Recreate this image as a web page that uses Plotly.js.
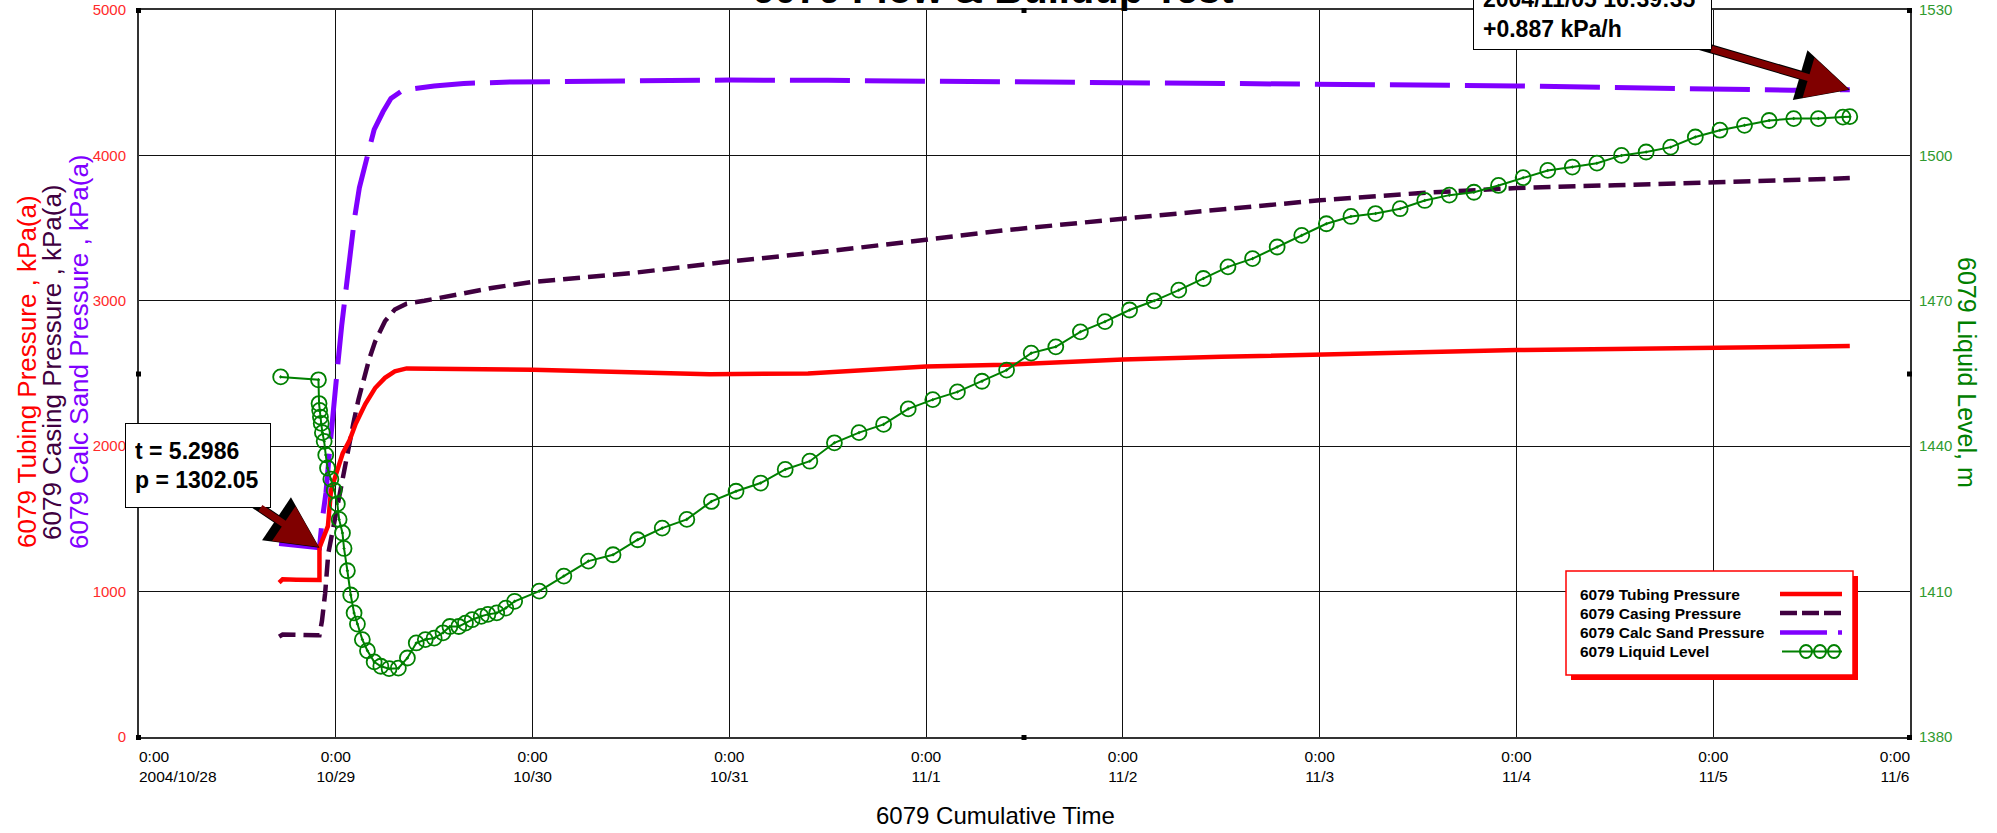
<!DOCTYPE html>
<html><head><meta charset="utf-8">
<script src="https://cdn.plot.ly/plotly-3.0.1.min.js"></script>
<style>html,body{margin:0;padding:0;background:#fff;}#chart{width:1997px;height:833px;}</style>
</head><body><div id="chart"></div>
<script>
// Time values are days since 2004-10-28 00:00
const tubingT = [0.712, 0.73, 0.80, 0.917, 0.917, 0.945, 0.96, 0.976, 1.0, 1.035, 1.07, 1.1, 1.15, 1.2, 1.25, 1.3, 1.36, 1.5, 1.75, 2.0, 2.5, 2.9, 3.4, 3.75, 4.0, 4.4, 5.0, 5.5, 6.0, 6.5, 7.0, 7.5, 8.0, 8.35, 8.694];
const tubingP = [1062, 1085, 1082, 1080, 1302.05, 1400, 1450, 1700, 1810, 1950, 2040, 2150, 2290, 2400, 2470, 2515, 2535, 2535, 2530, 2525, 2505, 2495, 2500, 2530, 2548, 2560, 2597, 2615, 2632, 2648, 2661, 2668, 2673, 2682, 2689];

const casingT = [0.712, 0.73, 0.905, 0.917, 0.93, 0.946, 0.962, 0.987, 1.01, 1.038, 1.065, 1.089, 1.115, 1.14, 1.17, 1.2, 1.25, 1.3, 1.36, 1.45, 1.6, 1.8, 2.0, 2.5, 3.0, 3.5, 4.0, 4.4, 5.0, 5.5, 6.0, 6.5, 7.0, 7.5, 8.0, 8.35, 8.694];
const casingP = [690, 705, 700, 700, 800, 989, 1263, 1446, 1600, 1812, 2000, 2155, 2320, 2452, 2600, 2720, 2860, 2940, 2980, 3000, 3040, 3090, 3130, 3190, 3270, 3340, 3420, 3485, 3565, 3630, 3691, 3740, 3776, 3795, 3810, 3828, 3844];

const sandT = [0.712, 0.80, 0.905, 0.917, 0.93, 0.95, 0.97, 0.99, 1.01, 1.03, 1.05, 1.07, 1.095, 1.12, 1.155, 1.195, 1.24, 1.28, 1.33, 1.4, 1.5, 1.65, 1.9, 2.2, 2.6, 3.0, 3.5, 4.0, 4.5, 5.0, 5.5, 6.0, 6.5, 7.0, 7.5, 8.0, 8.4, 8.694];
const sandP = [1330, 1318, 1300, 1302, 1480, 1680, 1990, 2320, 2560, 2829, 3075, 3320, 3565, 3779, 3980, 4178, 4300, 4392, 4438, 4460, 4478, 4495, 4505, 4510, 4515, 4518, 4516, 4512, 4505, 4500, 4495, 4490, 4484, 4478, 4470, 4455, 4448, 4452];

const levelT = [0.72, 0.912, 0.915, 0.918, 0.922, 0.926, 0.932, 0.941, 0.949, 0.958, 0.975, 0.992, 1.008, 1.017, 1.034, 1.042, 1.059, 1.076, 1.093, 1.110, 1.135, 1.161, 1.195, 1.229, 1.271, 1.318, 1.364, 1.409, 1.455, 1.5, 1.545, 1.58, 1.625, 1.659, 1.693, 1.739, 1.773, 1.818, 1.864, 1.909, 2.034, 2.159, 2.284, 2.409, 2.534, 2.659, 2.784, 2.909, 3.034, 3.159, 3.284, 3.409, 3.534, 3.659, 3.784, 3.909, 4.034, 4.159, 4.284, 4.409, 4.534, 4.659, 4.784, 4.909, 5.034, 5.159, 5.284, 5.409, 5.534, 5.659, 5.784, 5.909, 6.034, 6.159, 6.284, 6.409, 6.534, 6.659, 6.784, 6.909, 7.034, 7.159, 7.284, 7.409, 7.534, 7.659, 7.784, 7.909, 8.034, 8.159, 8.284, 8.409, 8.534, 8.659, 8.694];
const levelL = [1454.3, 1453.7, 1448.8, 1447.4, 1446.0, 1444.7, 1442.8, 1441.0, 1438.2, 1435.5, 1433.2, 1430.9, 1428.1, 1424.9, 1422.1, 1418.9, 1414.3, 1409.3, 1405.6, 1403.3, 1400.1, 1397.8, 1395.5, 1394.6, 1394.1, 1394.2, 1396.3, 1399.4, 1400.1, 1400.4, 1401.5, 1402.8, 1402.8, 1403.5, 1404.2, 1404.9, 1405.3, 1405.6, 1406.6, 1408.0, 1410.1, 1413.2, 1416.3, 1417.6, 1420.7, 1423.1, 1424.9, 1428.6, 1430.7, 1432.4, 1435.2, 1436.9, 1440.7, 1442.8, 1444.5, 1447.7, 1449.6, 1451.2, 1453.4, 1455.7, 1459.2, 1460.5, 1463.6, 1465.7, 1468.1, 1470.0, 1472.2, 1474.6, 1477.0, 1478.7, 1481.1, 1483.5, 1485.9, 1487.4, 1488.0, 1489.0, 1490.7, 1491.8, 1492.4, 1493.8, 1495.4, 1496.9, 1497.6, 1498.4, 1500.0, 1500.7, 1501.7, 1503.8, 1505.2, 1506.2, 1507.2, 1507.6, 1507.6, 1507.9, 1508.0];

const xTickVals = [0, 1, 2, 3, 4, 5, 6, 7, 8, 9];
const xTickDates = ['2004/10/28', '10/29', '10/30', '10/31', '11/1', '11/2', '11/3', '11/4', '11/5', '11/6'];
const xTickTimes = ['0:00', '0:00', '0:00', '0:00', '0:00', '0:00', '0:00', '0:00', '0:00', '0:00'];
const pTickVals = [0, 1000, 2000, 3000, 4000, 5000];
const lTickVals = [1380, 1410, 1440, 1470, 1500, 1530];

const chartTitle = '6079 Flow & Buildup Test';
const seriesNames = ['6079 Tubing Pressure', '6079 Casing Pressure', '6079 Calc Sand Pressure', '6079 Liquid Level'];
const callout1 = ['t = 5.2986', 'p = 1302.05'];
const callout2 = ['2004/11/05 16:39:35', '+0.887 kPa/h'];

// ---- geometry ----
const W = 1997, H = 833, ML = 139, MR = 87, MT = 10, MB = 96;
const PW = W - ML - MR, PH = H - MT - MB;
const XMAX = 9, PMAX = 5000;
const px = x => (x - ML) / PW;           // pixel -> paper x
const py = y => (H - MB - y) / PH;       // pixel -> paper y
const xPix = d => ML + d / XMAX * PW;
const yPix = p => MT + (PMAX - p) / PMAX * PH;

const FONT = 'Arial, "Liberation Sans", sans-serif';
const cRed = '#ff0000', cCas = '#400040', cSand = '#8000ff', cGreen = '#008000';

const NB = '\u00a0';
const xTickText = xTickVals.map((v, i) => {
  let a = xTickTimes[i], b = xTickDates[i];
  if (i === 0) { a = NB.repeat(7) + a; b = NB.repeat(18) + b; }
  if (i === xTickVals.length - 1) { a = a + NB.repeat(7); b = b + NB.repeat(7); }
  return a + '<br>' + b;
});

const traces = [
  {x: casingT, y: casingP, type: 'scatter', mode: 'lines', name: seriesNames[1],
   line: {color: cCas, width: 4.5, dash: '17px,8px'}},
  {x: sandT, y: sandP, type: 'scatter', mode: 'lines', name: seriesNames[2],
   line: {color: cSand, width: 5, dash: '60px,15px'}},
  {x: tubingT, y: tubingP, type: 'scatter', mode: 'lines', name: seriesNames[0],
   line: {color: cRed, width: 4.5}},
  {x: levelT, y: levelL, type: 'scatter', mode: 'lines+markers', name: seriesNames[3], yaxis: 'y2',
   line: {color: cGreen, width: 2},
   marker: {symbol: 'circle-open-dot', size: 15, color: cGreen, line: {color: cGreen, width: 1.8}}}
];

const annotations = [];
// chart title (clipped at the top edge, as in the reference)
annotations.push({text: '<b>' + chartTitle + '</b>', xref: 'paper', yref: 'paper', x: px(993), y: py(-11),
  xanchor: 'center', yanchor: 'middle', showarrow: false, font: {family: FONT, size: 40, color: '#000'}});
// axis titles
annotations.push({text: '6079 Cumulative Time', xref: 'paper', yref: 'paper', x: px(995), y: py(815),
  xanchor: 'center', yanchor: 'middle', showarrow: false, font: {family: FONT, size: 24, color: '#000'}});
const leftTitles = [
  ['6079 Tubing Pressure , kPa(a)', cRed, 27, 372],
  ['6079 Casing Pressure , kPa(a)', cCas, 52, 362],
  ['6079 Calc Sand Pressure , kPa(a)', cSand, 79, 352]
];
leftTitles.forEach(t => annotations.push({text: t[0], xref: 'paper', yref: 'paper', x: px(t[2]), y: py(t[3]),
  xanchor: 'center', yanchor: 'middle', textangle: -90, showarrow: false, font: {family: FONT, size: 26, color: t[1]}}));
annotations.push({text: '6079 Liquid Level, m', xref: 'paper', yref: 'paper', x: px(1967), y: py(373),
  xanchor: 'center', yanchor: 'middle', textangle: 90, showarrow: false, font: {family: FONT, size: 25, color: cGreen}});

// callouts: black under-arrow for outline, then maroon arrow with text box
function arrowOutline(tipT, tipP, cx, cy) {
  return {text: ' ', xref: 'x', yref: 'y', x: tipT, y: tipP, ax: cx - xPix(tipT), ay: cy - yPix(tipP),
    showarrow: true, arrowcolor: '#000', arrowwidth: 9, arrowhead: 2, arrowsize: 1.15, standoff: 0,
    font: {size: 2}};
}
function callout(lines, tipT, tipP, cx, cy, width, height) {
  return {text: lines.map(s => '<b>' + s + '</b>').join('<br>'), xref: 'x', yref: 'y', x: tipT, y: tipP,
    ax: cx - xPix(tipT), ay: cy - yPix(tipP), showarrow: true, arrowcolor: '#800000', arrowwidth: 7,
    arrowhead: 2, arrowsize: 1.2, standoff: 1, align: 'left', width: width, height: height,
    bgcolor: '#fff', bordercolor: '#000', borderwidth: 1, borderpad: 9,
    font: {family: FONT, size: 23, color: '#000'}};
}
const c1 = [tubingT[4], tubingP[4], 198, 466];
const c2 = [sandT[sandT.length - 1], sandP[sandP.length - 1], 1592.5, 14];
annotations.push(arrowOutline(c1[0], c1[1], c1[2], c1[3]));
annotations.push(arrowOutline(c2[0], c2[1], c2[2], c2[3]));
annotations.push(callout(callout1, c1[0], c1[1], c1[2], c1[3], 126, 65));
annotations.push(callout(callout2, c2[0], c2[1], c2[2], c2[3], 219, 52));

// custom legend (text left, sample right)
const legRows = [594, 613, 632.5, 651.5];
seriesNames.forEach((n, i) => annotations.push({text: '<b>' + n + '</b>', xref: 'paper', yref: 'paper',
  x: px(1578), y: py(legRows[i]), xanchor: 'left', yanchor: 'middle', showarrow: false,
  font: {family: FONT, size: 15.5, color: '#000'}}));

const shapes = [];
shapes.push({type: 'rect', xref: 'paper', yref: 'paper', x0: px(1571), x1: px(1858), y0: py(576), y1: py(680),
  fillcolor: cRed, line: {width: 0}, layer: 'above'});
shapes.push({type: 'rect', xref: 'paper', yref: 'paper', x0: px(1566), x1: px(1853), y0: py(571), y1: py(675),
  fillcolor: '#fff', line: {color: cRed, width: 1.5}, layer: 'above'});
const sx0 = 1780, sx1 = 1842;
shapes.push({type: 'line', xref: 'paper', yref: 'paper', x0: px(sx0), x1: px(sx1), y0: py(legRows[0]), y1: py(legRows[0]),
  line: {color: cRed, width: 4.5}, layer: 'above'});
shapes.push({type: 'line', xref: 'paper', yref: 'paper', x0: px(sx0), x1: px(sx1), y0: py(legRows[1]), y1: py(legRows[1]),
  line: {color: cCas, width: 4.5, dash: '17px,5px'}, layer: 'above'});
shapes.push({type: 'line', xref: 'paper', yref: 'paper', x0: px(sx0), x1: px(sx1), y0: py(legRows[2]), y1: py(legRows[2]),
  line: {color: cSand, width: 4.5, dash: '47px,11px'}, layer: 'above'});
shapes.push({type: 'line', xref: 'paper', yref: 'paper', x0: px(sx0 + 2), x1: px(sx1), y0: py(legRows[3]), y1: py(legRows[3]),
  line: {color: cGreen, width: 2}, layer: 'above'});
[1806, 1820, 1834].forEach(cx => shapes.push({type: 'circle', xref: 'paper', yref: 'paper',
  x0: px(cx - 6), x1: px(cx + 6), y0: py(legRows[3] - 6.5), y1: py(legRows[3] + 6.5),
  line: {color: cGreen, width: 2}, layer: 'above'}));

[[ML, MT], [ML + PW / 2, MT], [ML + PW, MT], [ML, MT + PH / 2], [ML + PW, MT + PH / 2],
 [ML, MT + PH], [ML + PW / 2, MT + PH], [ML + PW, MT + PH]].forEach(p => shapes.push({type: 'rect',
  xref: 'paper', yref: 'paper', x0: px(p[0] - 3), x1: px(p[0] + 2), y0: py(p[1] - 2), y1: py(p[1] + 3),
  fillcolor: '#000', line: {width: 0}, layer: 'above'}));

const layout = {
  width: W, height: H, margin: {l: ML, r: MR, t: MT, b: MB},
  paper_bgcolor: '#fff', plot_bgcolor: '#fff', showlegend: false,
  font: {family: FONT},
  xaxis: {range: [0, XMAX], tickmode: 'array', tickvals: xTickVals, ticktext: xTickText,
    showgrid: true, gridcolor: '#111', gridwidth: 1, zeroline: false,
    showline: true, linecolor: '#333', linewidth: 2, mirror: true, ticks: '', ticklabelstandoff: 4,
    tickfont: {family: FONT, size: 15.5, color: '#000'}},
  yaxis: {range: [0, PMAX], tickmode: 'array', tickvals: pTickVals,
    showgrid: true, gridcolor: '#111', gridwidth: 1, zeroline: false,
    showline: true, linecolor: '#333', linewidth: 2, mirror: true, ticks: '', ticklabelstandoff: 8,
    tickfont: {family: FONT, size: 15, color: '#ff2a2a'}},
  yaxis2: {range: [1380, 1530], tickmode: 'array', tickvals: lTickVals, overlaying: 'y', side: 'right',
    showgrid: false, zeroline: false, showline: false, ticks: '', ticklabelstandoff: 8,
    tickfont: {family: FONT, size: 15, color: '#2f9a2f'}},
  annotations: annotations,
  shapes: shapes
};

Plotly.newPlot('chart', traces, layout, {displayModeBar: false, staticPlot: true});
</script>
</body></html>
